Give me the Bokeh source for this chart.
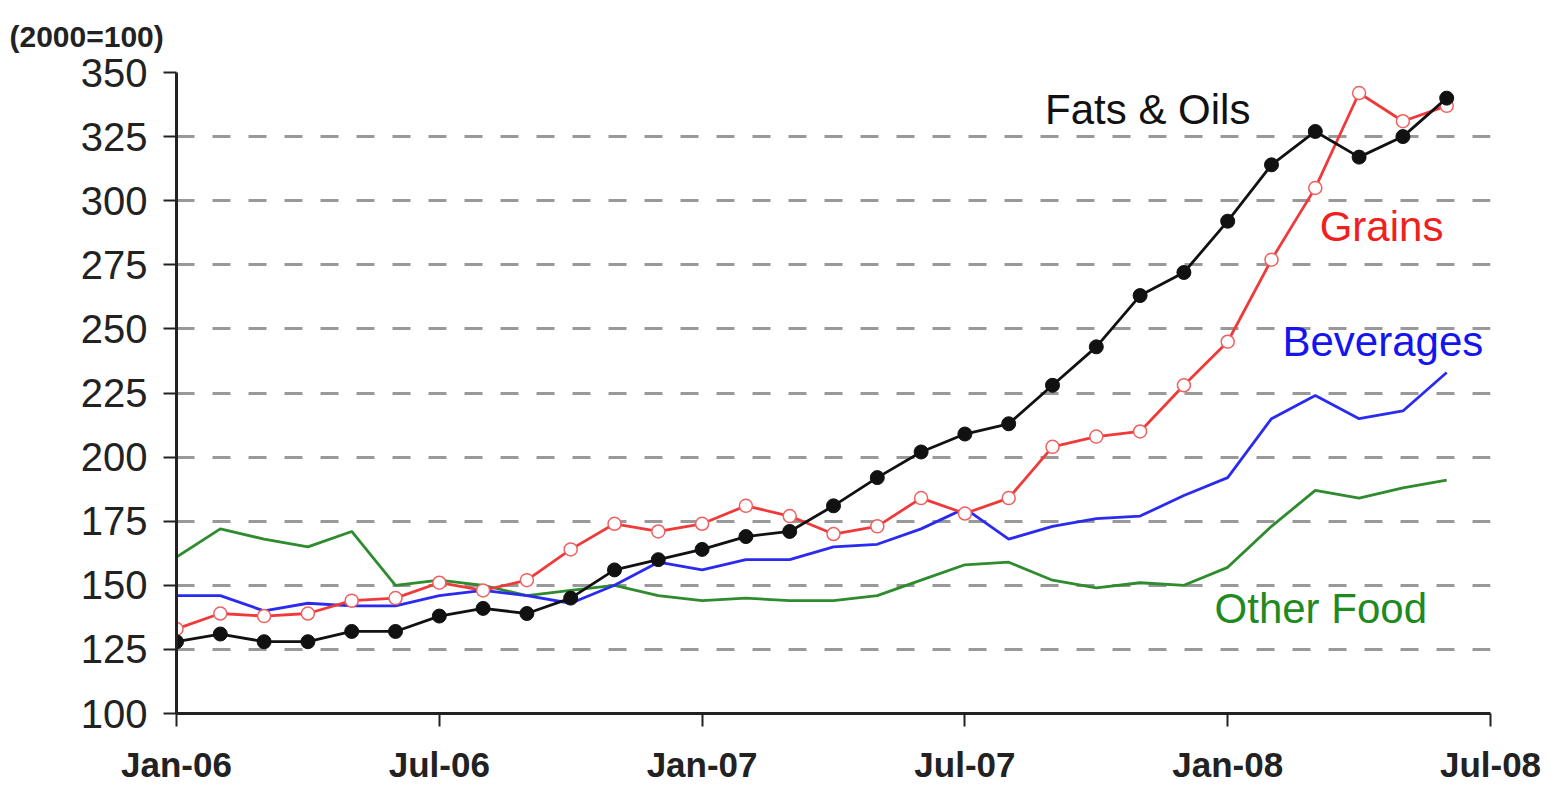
import pandas as pd
from bokeh.plotting import figure
from bokeh.models import FixedTicker, Label, ColumnDataSource
from bokeh.embed import file_html
from bokeh.resources import INLINE

# ---- data (monthly, Jan-2006 .. Jun-2008), index 2000=100 ----
months = pd.date_range("2006-01-01", periods=30, freq="MS")
fats_oils = [128, 131, 128, 128, 132, 132, 138, 141, 139, 145, 156, 160,
             164, 169, 171, 181, 192, 202, 209, 213, 228, 243, 263, 272,
             292, 314, 327, 317, 325, 340]
grains = [133, 139, 138, 139, 144, 145, 151, 148, 152, 164, 174, 171,
          174, 181, 177, 170, 173, 184, 178, 184, 204, 208, 210, 228,
          245, 277, 305, 342, 331, 337]
beverages = [146, 146, 140, 143, 142, 142, 146, 148, 146, 143, 150, 159,
             156, 160, 160, 165, 166, 172, 180, 168, 173, 176, 177, 185,
             192, 215, 224, 215, 218, 233]
other_food = [161, 172, 168, 165, 171, 150, 152, 150, 146, 148, 150, 146,
              144, 145, 144, 144, 146, 152, 158, 159, 152, 149, 151, 150,
              157, 173, 187, 184, 188, 191]
tick_months = [0, 6, 12, 18, 24, 30]
tick_labels = ["Jan-06", "Jul-06", "Jan-07", "Jul-07", "Jan-08", "Jul-08"]
y_ticks = [100, 125, 150, 175, 200, 225, 250, 275, 300, 325, 350]
unit_label = "(2000=100)"

x = list(range(len(months)))
src = ColumnDataSource(dict(x=x, fats=fats_oils, grains=grains,
                            bev=beverages, other=other_food))

p = figure(width=1543, height=786, output_backend="svg", toolbar_location=None,
           x_range=(0, 30), y_range=(100, 350),
           min_border_left=176, min_border_right=53, min_border_top=72,
           min_border_bottom=70)
p.outline_line_color = None
p.background_fill_color = "white"

# axes
for ax in (p.xaxis, p.yaxis):
    ax.axis_line_color = "#222222"
    ax.axis_line_width = 3
    ax.major_tick_line_color = "#222222"
    ax.major_tick_line_width = 2
    ax.minor_tick_line_color = None
    ax.major_tick_out = 13
    ax.major_tick_in = 0
p.xaxis.ticker = FixedTicker(ticks=tick_months)
p.xaxis.major_label_overrides = {t: l for t, l in zip(tick_months, tick_labels)}
p.xaxis.major_label_text_font = "Liberation Sans"
p.xaxis.major_label_text_font_style = "bold"
p.xaxis.major_label_text_font_size = "35px"
p.xaxis.major_label_text_color = "#222222"
p.xaxis.major_label_standoff = 18

p.yaxis.ticker = FixedTicker(ticks=y_ticks)
p.yaxis.major_label_text_font = "Liberation Sans"
p.yaxis.major_label_text_font_size = "40px"
p.yaxis.major_label_text_color = "#222222"
p.yaxis.major_label_standoff = 16

p.xgrid.grid_line_color = None
p.ygrid.ticker = FixedTicker(ticks=y_ticks[1:])
p.ygrid.grid_line_color = "#999999"
p.ygrid.grid_line_width = 3
p.ygrid.grid_line_dash = "18 18"

# unit label as title (top-left)
p.title.text = unit_label
p.title.text_font = "Liberation Sans"
p.title.text_font_style = "bold"
p.title.text_font_size = "30px"
p.title.text_color = "#222222"
p.title.align = "left"
p.title.vertical_align = "top"
p.title.offset = -167
p.title.standoff = 36

# series
p.line("x", "other", source=src, color="#2e8b2e", line_width=2.8)
p.line("x", "bev", source=src, color="#2a2af0", line_width=2.8)
p.line("x", "grains", source=src, color="#f03a3a", line_width=2.8)
p.scatter("x", "grains", source=src, size=13, fill_color="white",
          line_color="#f06060", line_width=1.5)
p.line("x", "fats", source=src, color="#111111", line_width=2.8)
p.scatter("x", "fats", source=src, size=14, fill_color="#111111",
          line_color="#111111")

# series labels
for txt, lx, ly, col in [("Fats & Oils", 19.83, 335.5, "#111111"),
                         ("Grains", 26.1, 290, "#f02020"),
                         ("Beverages", 25.25, 245, "#1414f0"),
                         ("Other Food", 23.7, 141, "#1f8a1f")]:
    p.add_layout(Label(x=lx, y=ly, text=txt, text_color=col,
                       text_font="Liberation Sans", text_font_size="42px",
                       text_baseline="middle", text_align="left"))

open("out.html", "w").write(file_html(p, INLINE))
